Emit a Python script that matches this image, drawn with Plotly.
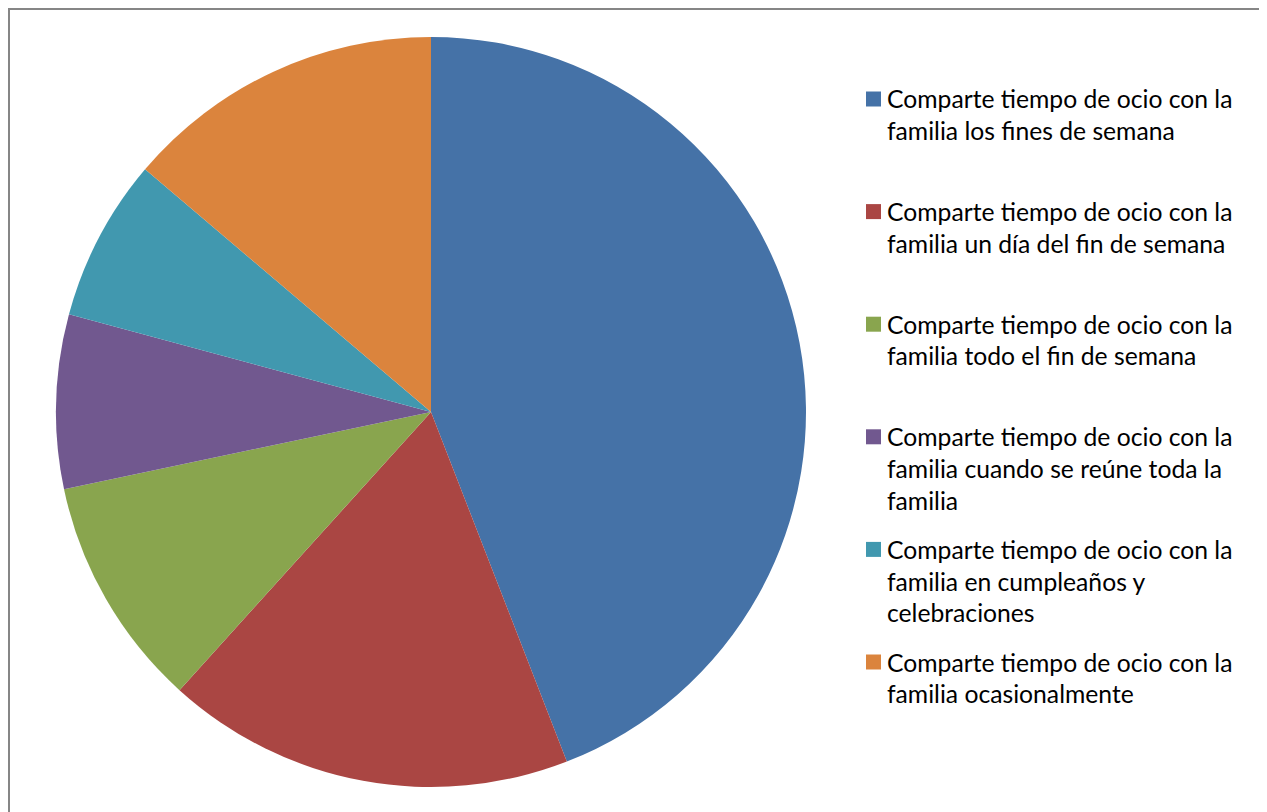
import plotly.graph_objects as go

labels = [
    "Comparte tiempo de ocio con la<br>familia los fines de semana",
    "Comparte tiempo de ocio con la<br>familia un día del fin de semana",
    "Comparte tiempo de ocio con la<br>familia todo el fin de semana",
    "Comparte tiempo de ocio con la<br>familia cuando se reúne toda la<br>familia",
    "Comparte tiempo de ocio con la<br>familia en cumpleaños y<br>celebraciones",
    "Comparte tiempo de ocio con la<br>familia ocasionalmente",
]
values = [44.1, 17.6, 10.0, 7.5, 7.0, 13.8]
colors = ["#4572A7", "#AA4643", "#89A54E", "#71588F", "#4198AF", "#DB843D"]

W, H = 1267, 812
fig = go.Figure()
fig.add_trace(go.Pie(
    labels=labels, values=values, sort=False, direction="clockwise", rotation=0,
    marker=dict(colors=colors, line=dict(width=0)),
    textinfo="none", showlegend=False,
    domain=dict(x=[48 / W, 798 / W], y=[(H - 779) / H, (H - 29) / H]),
))

# legend: colored squares + text lines
font = dict(family="Lato, Carlito, Calibri, sans-serif", size=24.7, color="#000000")
first_y = 91
item_gap = 112.6
line_gap = 31.7
for i, (lab, col) in enumerate(zip(labels, colors)):
    yc = first_y + i * item_gap
    fig.add_shape(type="rect", xref="paper", yref="paper",
                  x0=858 / W, x1=873 / W, y0=(H - (yc + 7.5)) / H, y1=(H - (yc - 7.5)) / H,
                  fillcolor=col, line=dict(width=0))
    for j, line in enumerate(lab.split("<br>")):
        fig.add_annotation(text=line, xref="paper", yref="paper",
                           x=877 / W, y=(H - (yc + j * line_gap)) / H,
                           xanchor="left", yanchor="middle", showarrow=False,
                           font=font)

fig.add_shape(type="rect", xref="paper", yref="paper",
              x0=1 / W, x1=1254 / W, y0=-0.02, y1=(H - 1) / H,
              line=dict(color="#868686", width=2), fillcolor="rgba(0,0,0,0)")

fig.update_layout(width=W, height=H, margin=dict(l=0, r=0, t=0, b=0),
                  paper_bgcolor="white", plot_bgcolor="white", showlegend=False)
fig.write_html("out.html")
